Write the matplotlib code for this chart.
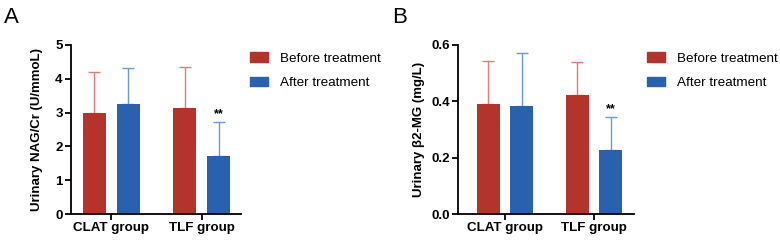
import matplotlib
matplotlib.use("Agg")
import matplotlib.pyplot as plt
import numpy as np
from matplotlib.patches import Patch

plt.rcParams['font.family'] = ['Liberation Sans', 'DejaVu Sans']

groups = ["CLAT group", "TLF group"]
series = ["Before treatment", "After treatment"]

nag_mean = {"Before treatment": [3.00, 3.13], "After treatment": [3.25, 1.72]}
nag_sd = {"Before treatment": [1.21, 1.21], "After treatment": [1.06, 0.99]}
b2_mean = {"Before treatment": [0.389, 0.422], "After treatment": [0.383, 0.227]}
b2_sd = {"Before treatment": [0.154, 0.118], "After treatment": [0.187, 0.116]}

nag_ticks = [0, 1, 2, 3, 4, 5]
b2_ticks = [0.0, 0.2, 0.4, 0.6]

bar_colors = {"Before treatment": "#B3342B", "After treatment": "#2961AD"}
err_colors = {"Before treatment": "#E47A78", "After treatment": "#6A98D8"}

fig = plt.figure(figsize=(7.8, 2.43), dpi=100)

def panel(rect, xlim, means, sds, ticks, ylabel, fmt, letter, letter_x, leg_x, lpad):
    ax = fig.add_axes(rect)
    x = np.arange(len(groups)) * 1.0
    w = 0.255
    offs = {"Before treatment": -0.188, "After treatment": 0.188}
    for s in series:
        ax.bar(x + offs[s], means[s], width=w, color=bar_colors[s], zorder=2)
        ax.errorbar(x + offs[s], means[s], yerr=[np.zeros(len(groups)), sds[s]],
                    fmt='none', ecolor=err_colors[s], elinewidth=1.0, capsize=4,
                    capthick=1.0, zorder=1)
    top = means["After treatment"][1] + sds["After treatment"][1]
    ax.text(x[1] + offs["After treatment"], top + (ticks[-1]) * 0.012, "**",
            ha='center', va='bottom', fontsize=9, fontweight='bold')
    ax.set_xlim(*xlim)
    ax.set_ylim(ticks[0], ticks[-1])
    ax.set_yticks(ticks)
    ax.set_yticklabels([fmt.format(t) for t in ticks], fontsize=9.5, fontweight='bold')
    ax.set_xticks(x)
    ax.set_xticklabels(groups, fontsize=9.6, fontweight='bold')
    ax.spines['top'].set_visible(False)
    ax.spines['right'].set_visible(False)
    for sp in ['left', 'bottom']:
        ax.spines[sp].set_linewidth(1.3)
    ax.tick_params(width=1.3, length=4, pad=2)
    ax.set_ylabel(ylabel, fontsize=9.5, fontweight='bold', labelpad=lpad)
    fig.text(letter_x, 0.97, letter, fontsize=16, ha='left', va='top')
    handles = [Patch(color=bar_colors[s], label=s) for s in series]
    fig.legend(handles=handles, loc='upper left', bbox_to_anchor=(leg_x, 0.784),
               frameon=False, fontsize=9.7, handlelength=1.35, handleheight=0.75,
               labelspacing=0.85, handletextpad=0.85, borderpad=0, borderaxespad=0)
    return ax

panel([71 / 780, 0.119, 170 / 780, 0.696], (-0.444, 1.433), nag_mean, nag_sd, nag_ticks,
      "Urinary NAG/Cr (U/mmoL)", "{:.0f}", "A", 0.005, 250 / 780, 9)
panel([458 / 780, 0.119, 176 / 780, 0.696], (-0.53, 1.45), b2_mean, b2_sd, b2_ticks,
      "Urinary β2-MG (mg/L)", "{:.1f}", "B", 0.503, 647 / 780, 4)

fig.savefig("out.png", dpi=100)
